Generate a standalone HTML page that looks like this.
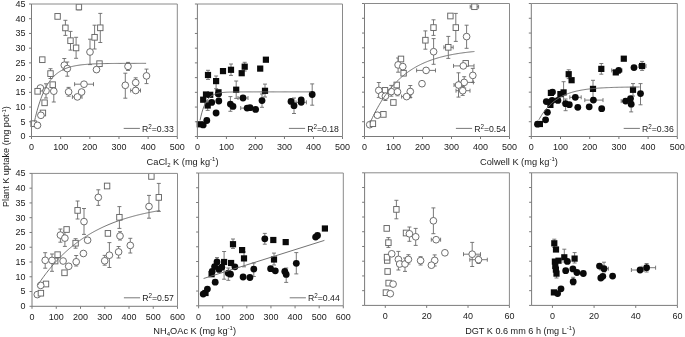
<!DOCTYPE html>
<html><head><meta charset="utf-8"><style>
html,body{margin:0;padding:0;background:#fff;}
svg{display:block;font-family:"Liberation Sans",sans-serif;filter:blur(0.3px);}
text{fill:#1a1a1a;}
</style></head><body>
<svg width="685" height="337" viewBox="0 0 685 337" shape-rendering="auto">
<defs><clipPath id="cA"><rect x="27.5" y="4.0" width="153.8" height="136.5"/></clipPath><clipPath id="cB"><rect x="193.4" y="4.0" width="153.1" height="136.5"/></clipPath><clipPath id="cC"><rect x="360.5" y="3.5" width="153.0" height="137.0"/></clipPath><clipPath id="cD"><rect x="527.3" y="3.5" width="154.0" height="137.0"/></clipPath><clipPath id="cE"><rect x="28.0" y="173.4" width="153.5" height="136.9"/></clipPath><clipPath id="cF"><rect x="194.6" y="173.0" width="152.70000000000002" height="136.8"/></clipPath><clipPath id="cG"><rect x="360.6" y="172.8" width="152.79999999999995" height="136.59999999999997"/></clipPath><clipPath id="cH"><rect x="527.6" y="172.8" width="153.79999999999995" height="136.59999999999997"/></clipPath></defs>
<line x1="29.00" y1="136.50" x2="31.50" y2="136.50" stroke="#7a7a7a" stroke-width="1"/>
<text transform="translate(25.60,139.40) scale(1,1.08)" font-size="9" text-anchor="end" >0</text>
<line x1="29.00" y1="121.78" x2="31.50" y2="121.78" stroke="#7a7a7a" stroke-width="1"/>
<text transform="translate(25.60,124.68) scale(1,1.08)" font-size="9" text-anchor="end" >5</text>
<line x1="29.00" y1="107.06" x2="31.50" y2="107.06" stroke="#7a7a7a" stroke-width="1"/>
<text transform="translate(25.60,109.96) scale(1,1.08)" font-size="9" text-anchor="end" >10</text>
<line x1="29.00" y1="92.33" x2="31.50" y2="92.33" stroke="#7a7a7a" stroke-width="1"/>
<text transform="translate(25.60,95.23) scale(1,1.08)" font-size="9" text-anchor="end" >15</text>
<line x1="29.00" y1="77.61" x2="31.50" y2="77.61" stroke="#7a7a7a" stroke-width="1"/>
<text transform="translate(25.60,80.51) scale(1,1.08)" font-size="9" text-anchor="end" >20</text>
<line x1="29.00" y1="62.89" x2="31.50" y2="62.89" stroke="#7a7a7a" stroke-width="1"/>
<text transform="translate(25.60,65.79) scale(1,1.08)" font-size="9" text-anchor="end" >25</text>
<line x1="29.00" y1="48.17" x2="31.50" y2="48.17" stroke="#7a7a7a" stroke-width="1"/>
<text transform="translate(25.60,51.07) scale(1,1.08)" font-size="9" text-anchor="end" >30</text>
<line x1="29.00" y1="33.44" x2="31.50" y2="33.44" stroke="#7a7a7a" stroke-width="1"/>
<text transform="translate(25.60,36.34) scale(1,1.08)" font-size="9" text-anchor="end" >35</text>
<line x1="29.00" y1="18.72" x2="31.50" y2="18.72" stroke="#7a7a7a" stroke-width="1"/>
<text transform="translate(25.60,21.62) scale(1,1.08)" font-size="9" text-anchor="end" >40</text>
<line x1="29.00" y1="4.00" x2="31.50" y2="4.00" stroke="#7a7a7a" stroke-width="1"/>
<text transform="translate(25.60,6.90) scale(1,1.08)" font-size="9" text-anchor="end" >45</text>
<line x1="31.50" y1="136.50" x2="31.50" y2="139.00" stroke="#7a7a7a" stroke-width="1"/>
<text transform="translate(31.50,150.30) scale(1,1.08)" font-size="9" text-anchor="middle" >0</text>
<line x1="60.66" y1="136.50" x2="60.66" y2="139.00" stroke="#7a7a7a" stroke-width="1"/>
<text transform="translate(60.66,150.30) scale(1,1.08)" font-size="9" text-anchor="middle" >100</text>
<line x1="89.82" y1="136.50" x2="89.82" y2="139.00" stroke="#7a7a7a" stroke-width="1"/>
<text transform="translate(89.82,150.30) scale(1,1.08)" font-size="9" text-anchor="middle" >200</text>
<line x1="118.98" y1="136.50" x2="118.98" y2="139.00" stroke="#7a7a7a" stroke-width="1"/>
<text transform="translate(118.98,150.30) scale(1,1.08)" font-size="9" text-anchor="middle" >300</text>
<line x1="148.14" y1="136.50" x2="148.14" y2="139.00" stroke="#7a7a7a" stroke-width="1"/>
<text transform="translate(148.14,150.30) scale(1,1.08)" font-size="9" text-anchor="middle" >400</text>
<line x1="177.30" y1="136.50" x2="177.30" y2="139.00" stroke="#7a7a7a" stroke-width="1"/>
<text transform="translate(177.30,150.30) scale(1,1.08)" font-size="9" text-anchor="middle" >500</text>
<line x1="194.90" y1="136.50" x2="197.40" y2="136.50" stroke="#7a7a7a" stroke-width="1"/>
<line x1="194.90" y1="121.78" x2="197.40" y2="121.78" stroke="#7a7a7a" stroke-width="1"/>
<line x1="194.90" y1="107.06" x2="197.40" y2="107.06" stroke="#7a7a7a" stroke-width="1"/>
<line x1="194.90" y1="92.33" x2="197.40" y2="92.33" stroke="#7a7a7a" stroke-width="1"/>
<line x1="194.90" y1="77.61" x2="197.40" y2="77.61" stroke="#7a7a7a" stroke-width="1"/>
<line x1="194.90" y1="62.89" x2="197.40" y2="62.89" stroke="#7a7a7a" stroke-width="1"/>
<line x1="194.90" y1="48.17" x2="197.40" y2="48.17" stroke="#7a7a7a" stroke-width="1"/>
<line x1="194.90" y1="33.44" x2="197.40" y2="33.44" stroke="#7a7a7a" stroke-width="1"/>
<line x1="194.90" y1="18.72" x2="197.40" y2="18.72" stroke="#7a7a7a" stroke-width="1"/>
<line x1="194.90" y1="4.00" x2="197.40" y2="4.00" stroke="#7a7a7a" stroke-width="1"/>
<line x1="197.40" y1="136.50" x2="197.40" y2="139.00" stroke="#7a7a7a" stroke-width="1"/>
<text transform="translate(197.40,150.30) scale(1,1.08)" font-size="9" text-anchor="middle" >0</text>
<line x1="226.42" y1="136.50" x2="226.42" y2="139.00" stroke="#7a7a7a" stroke-width="1"/>
<text transform="translate(226.42,150.30) scale(1,1.08)" font-size="9" text-anchor="middle" >100</text>
<line x1="255.44" y1="136.50" x2="255.44" y2="139.00" stroke="#7a7a7a" stroke-width="1"/>
<text transform="translate(255.44,150.30) scale(1,1.08)" font-size="9" text-anchor="middle" >200</text>
<line x1="284.46" y1="136.50" x2="284.46" y2="139.00" stroke="#7a7a7a" stroke-width="1"/>
<text transform="translate(284.46,150.30) scale(1,1.08)" font-size="9" text-anchor="middle" >300</text>
<line x1="313.48" y1="136.50" x2="313.48" y2="139.00" stroke="#7a7a7a" stroke-width="1"/>
<text transform="translate(313.48,150.30) scale(1,1.08)" font-size="9" text-anchor="middle" >400</text>
<line x1="342.50" y1="136.50" x2="342.50" y2="139.00" stroke="#7a7a7a" stroke-width="1"/>
<text transform="translate(342.50,150.30) scale(1,1.08)" font-size="9" text-anchor="middle" >500</text>
<line x1="362.00" y1="136.50" x2="364.50" y2="136.50" stroke="#7a7a7a" stroke-width="1"/>
<line x1="362.00" y1="121.72" x2="364.50" y2="121.72" stroke="#7a7a7a" stroke-width="1"/>
<line x1="362.00" y1="106.94" x2="364.50" y2="106.94" stroke="#7a7a7a" stroke-width="1"/>
<line x1="362.00" y1="92.17" x2="364.50" y2="92.17" stroke="#7a7a7a" stroke-width="1"/>
<line x1="362.00" y1="77.39" x2="364.50" y2="77.39" stroke="#7a7a7a" stroke-width="1"/>
<line x1="362.00" y1="62.61" x2="364.50" y2="62.61" stroke="#7a7a7a" stroke-width="1"/>
<line x1="362.00" y1="47.83" x2="364.50" y2="47.83" stroke="#7a7a7a" stroke-width="1"/>
<line x1="362.00" y1="33.06" x2="364.50" y2="33.06" stroke="#7a7a7a" stroke-width="1"/>
<line x1="362.00" y1="18.28" x2="364.50" y2="18.28" stroke="#7a7a7a" stroke-width="1"/>
<line x1="362.00" y1="3.50" x2="364.50" y2="3.50" stroke="#7a7a7a" stroke-width="1"/>
<line x1="364.50" y1="136.50" x2="364.50" y2="139.00" stroke="#7a7a7a" stroke-width="1"/>
<text transform="translate(364.50,150.30) scale(1,1.08)" font-size="9" text-anchor="middle" >0</text>
<line x1="393.50" y1="136.50" x2="393.50" y2="139.00" stroke="#7a7a7a" stroke-width="1"/>
<text transform="translate(393.50,150.30) scale(1,1.08)" font-size="9" text-anchor="middle" >100</text>
<line x1="422.50" y1="136.50" x2="422.50" y2="139.00" stroke="#7a7a7a" stroke-width="1"/>
<text transform="translate(422.50,150.30) scale(1,1.08)" font-size="9" text-anchor="middle" >200</text>
<line x1="451.50" y1="136.50" x2="451.50" y2="139.00" stroke="#7a7a7a" stroke-width="1"/>
<text transform="translate(451.50,150.30) scale(1,1.08)" font-size="9" text-anchor="middle" >300</text>
<line x1="480.50" y1="136.50" x2="480.50" y2="139.00" stroke="#7a7a7a" stroke-width="1"/>
<text transform="translate(480.50,150.30) scale(1,1.08)" font-size="9" text-anchor="middle" >400</text>
<line x1="509.50" y1="136.50" x2="509.50" y2="139.00" stroke="#7a7a7a" stroke-width="1"/>
<text transform="translate(509.50,150.30) scale(1,1.08)" font-size="9" text-anchor="middle" >500</text>
<line x1="528.80" y1="136.50" x2="531.30" y2="136.50" stroke="#7a7a7a" stroke-width="1"/>
<line x1="528.80" y1="121.72" x2="531.30" y2="121.72" stroke="#7a7a7a" stroke-width="1"/>
<line x1="528.80" y1="106.94" x2="531.30" y2="106.94" stroke="#7a7a7a" stroke-width="1"/>
<line x1="528.80" y1="92.17" x2="531.30" y2="92.17" stroke="#7a7a7a" stroke-width="1"/>
<line x1="528.80" y1="77.39" x2="531.30" y2="77.39" stroke="#7a7a7a" stroke-width="1"/>
<line x1="528.80" y1="62.61" x2="531.30" y2="62.61" stroke="#7a7a7a" stroke-width="1"/>
<line x1="528.80" y1="47.83" x2="531.30" y2="47.83" stroke="#7a7a7a" stroke-width="1"/>
<line x1="528.80" y1="33.06" x2="531.30" y2="33.06" stroke="#7a7a7a" stroke-width="1"/>
<line x1="528.80" y1="18.28" x2="531.30" y2="18.28" stroke="#7a7a7a" stroke-width="1"/>
<line x1="528.80" y1="3.50" x2="531.30" y2="3.50" stroke="#7a7a7a" stroke-width="1"/>
<line x1="531.30" y1="136.50" x2="531.30" y2="139.00" stroke="#7a7a7a" stroke-width="1"/>
<text transform="translate(531.30,150.30) scale(1,1.08)" font-size="9" text-anchor="middle" >0</text>
<line x1="560.50" y1="136.50" x2="560.50" y2="139.00" stroke="#7a7a7a" stroke-width="1"/>
<text transform="translate(560.50,150.30) scale(1,1.08)" font-size="9" text-anchor="middle" >100</text>
<line x1="589.70" y1="136.50" x2="589.70" y2="139.00" stroke="#7a7a7a" stroke-width="1"/>
<text transform="translate(589.70,150.30) scale(1,1.08)" font-size="9" text-anchor="middle" >200</text>
<line x1="618.90" y1="136.50" x2="618.90" y2="139.00" stroke="#7a7a7a" stroke-width="1"/>
<text transform="translate(618.90,150.30) scale(1,1.08)" font-size="9" text-anchor="middle" >300</text>
<line x1="648.10" y1="136.50" x2="648.10" y2="139.00" stroke="#7a7a7a" stroke-width="1"/>
<text transform="translate(648.10,150.30) scale(1,1.08)" font-size="9" text-anchor="middle" >400</text>
<line x1="677.30" y1="136.50" x2="677.30" y2="139.00" stroke="#7a7a7a" stroke-width="1"/>
<text transform="translate(677.30,150.30) scale(1,1.08)" font-size="9" text-anchor="middle" >500</text>
<line x1="29.50" y1="306.30" x2="32.00" y2="306.30" stroke="#7a7a7a" stroke-width="1"/>
<text transform="translate(25.60,309.20) scale(1,1.08)" font-size="9" text-anchor="end" >0</text>
<line x1="29.50" y1="291.53" x2="32.00" y2="291.53" stroke="#7a7a7a" stroke-width="1"/>
<text transform="translate(25.60,294.43) scale(1,1.08)" font-size="9" text-anchor="end" >5</text>
<line x1="29.50" y1="276.77" x2="32.00" y2="276.77" stroke="#7a7a7a" stroke-width="1"/>
<text transform="translate(25.60,279.67) scale(1,1.08)" font-size="9" text-anchor="end" >10</text>
<line x1="29.50" y1="262.00" x2="32.00" y2="262.00" stroke="#7a7a7a" stroke-width="1"/>
<text transform="translate(25.60,264.90) scale(1,1.08)" font-size="9" text-anchor="end" >15</text>
<line x1="29.50" y1="247.23" x2="32.00" y2="247.23" stroke="#7a7a7a" stroke-width="1"/>
<text transform="translate(25.60,250.13) scale(1,1.08)" font-size="9" text-anchor="end" >20</text>
<line x1="29.50" y1="232.47" x2="32.00" y2="232.47" stroke="#7a7a7a" stroke-width="1"/>
<text transform="translate(25.60,235.37) scale(1,1.08)" font-size="9" text-anchor="end" >25</text>
<line x1="29.50" y1="217.70" x2="32.00" y2="217.70" stroke="#7a7a7a" stroke-width="1"/>
<text transform="translate(25.60,220.60) scale(1,1.08)" font-size="9" text-anchor="end" >30</text>
<line x1="29.50" y1="202.93" x2="32.00" y2="202.93" stroke="#7a7a7a" stroke-width="1"/>
<text transform="translate(25.60,205.83) scale(1,1.08)" font-size="9" text-anchor="end" >35</text>
<line x1="29.50" y1="188.17" x2="32.00" y2="188.17" stroke="#7a7a7a" stroke-width="1"/>
<text transform="translate(25.60,191.07) scale(1,1.08)" font-size="9" text-anchor="end" >40</text>
<line x1="29.50" y1="173.40" x2="32.00" y2="173.40" stroke="#7a7a7a" stroke-width="1"/>
<text transform="translate(25.60,176.30) scale(1,1.08)" font-size="9" text-anchor="end" >45</text>
<line x1="32.00" y1="306.30" x2="32.00" y2="308.80" stroke="#7a7a7a" stroke-width="1"/>
<text transform="translate(32.00,320.10) scale(1,1.08)" font-size="9" text-anchor="middle" >0</text>
<line x1="56.25" y1="306.30" x2="56.25" y2="308.80" stroke="#7a7a7a" stroke-width="1"/>
<text transform="translate(56.25,320.10) scale(1,1.08)" font-size="9" text-anchor="middle" >100</text>
<line x1="80.50" y1="306.30" x2="80.50" y2="308.80" stroke="#7a7a7a" stroke-width="1"/>
<text transform="translate(80.50,320.10) scale(1,1.08)" font-size="9" text-anchor="middle" >200</text>
<line x1="104.75" y1="306.30" x2="104.75" y2="308.80" stroke="#7a7a7a" stroke-width="1"/>
<text transform="translate(104.75,320.10) scale(1,1.08)" font-size="9" text-anchor="middle" >300</text>
<line x1="129.00" y1="306.30" x2="129.00" y2="308.80" stroke="#7a7a7a" stroke-width="1"/>
<text transform="translate(129.00,320.10) scale(1,1.08)" font-size="9" text-anchor="middle" >400</text>
<line x1="153.25" y1="306.30" x2="153.25" y2="308.80" stroke="#7a7a7a" stroke-width="1"/>
<text transform="translate(153.25,320.10) scale(1,1.08)" font-size="9" text-anchor="middle" >500</text>
<line x1="177.50" y1="306.30" x2="177.50" y2="308.80" stroke="#7a7a7a" stroke-width="1"/>
<text transform="translate(177.50,320.10) scale(1,1.08)" font-size="9" text-anchor="middle" >600</text>
<line x1="196.10" y1="305.80" x2="198.60" y2="305.80" stroke="#7a7a7a" stroke-width="1"/>
<line x1="196.10" y1="291.04" x2="198.60" y2="291.04" stroke="#7a7a7a" stroke-width="1"/>
<line x1="196.10" y1="276.29" x2="198.60" y2="276.29" stroke="#7a7a7a" stroke-width="1"/>
<line x1="196.10" y1="261.53" x2="198.60" y2="261.53" stroke="#7a7a7a" stroke-width="1"/>
<line x1="196.10" y1="246.78" x2="198.60" y2="246.78" stroke="#7a7a7a" stroke-width="1"/>
<line x1="196.10" y1="232.02" x2="198.60" y2="232.02" stroke="#7a7a7a" stroke-width="1"/>
<line x1="196.10" y1="217.27" x2="198.60" y2="217.27" stroke="#7a7a7a" stroke-width="1"/>
<line x1="196.10" y1="202.51" x2="198.60" y2="202.51" stroke="#7a7a7a" stroke-width="1"/>
<line x1="196.10" y1="187.76" x2="198.60" y2="187.76" stroke="#7a7a7a" stroke-width="1"/>
<line x1="196.10" y1="173.00" x2="198.60" y2="173.00" stroke="#7a7a7a" stroke-width="1"/>
<line x1="198.60" y1="305.80" x2="198.60" y2="308.30" stroke="#7a7a7a" stroke-width="1"/>
<text transform="translate(198.60,319.60) scale(1,1.08)" font-size="9" text-anchor="middle" >0</text>
<line x1="222.72" y1="305.80" x2="222.72" y2="308.30" stroke="#7a7a7a" stroke-width="1"/>
<text transform="translate(222.72,319.60) scale(1,1.08)" font-size="9" text-anchor="middle" >100</text>
<line x1="246.83" y1="305.80" x2="246.83" y2="308.30" stroke="#7a7a7a" stroke-width="1"/>
<text transform="translate(246.83,319.60) scale(1,1.08)" font-size="9" text-anchor="middle" >200</text>
<line x1="270.95" y1="305.80" x2="270.95" y2="308.30" stroke="#7a7a7a" stroke-width="1"/>
<text transform="translate(270.95,319.60) scale(1,1.08)" font-size="9" text-anchor="middle" >300</text>
<line x1="295.07" y1="305.80" x2="295.07" y2="308.30" stroke="#7a7a7a" stroke-width="1"/>
<text transform="translate(295.07,319.60) scale(1,1.08)" font-size="9" text-anchor="middle" >400</text>
<line x1="319.18" y1="305.80" x2="319.18" y2="308.30" stroke="#7a7a7a" stroke-width="1"/>
<text transform="translate(319.18,319.60) scale(1,1.08)" font-size="9" text-anchor="middle" >500</text>
<line x1="343.30" y1="305.80" x2="343.30" y2="308.30" stroke="#7a7a7a" stroke-width="1"/>
<text transform="translate(343.30,319.60) scale(1,1.08)" font-size="9" text-anchor="middle" >600</text>
<line x1="362.10" y1="305.40" x2="364.60" y2="305.40" stroke="#7a7a7a" stroke-width="1"/>
<line x1="362.10" y1="290.67" x2="364.60" y2="290.67" stroke="#7a7a7a" stroke-width="1"/>
<line x1="362.10" y1="275.93" x2="364.60" y2="275.93" stroke="#7a7a7a" stroke-width="1"/>
<line x1="362.10" y1="261.20" x2="364.60" y2="261.20" stroke="#7a7a7a" stroke-width="1"/>
<line x1="362.10" y1="246.47" x2="364.60" y2="246.47" stroke="#7a7a7a" stroke-width="1"/>
<line x1="362.10" y1="231.73" x2="364.60" y2="231.73" stroke="#7a7a7a" stroke-width="1"/>
<line x1="362.10" y1="217.00" x2="364.60" y2="217.00" stroke="#7a7a7a" stroke-width="1"/>
<line x1="362.10" y1="202.27" x2="364.60" y2="202.27" stroke="#7a7a7a" stroke-width="1"/>
<line x1="362.10" y1="187.53" x2="364.60" y2="187.53" stroke="#7a7a7a" stroke-width="1"/>
<line x1="362.10" y1="172.80" x2="364.60" y2="172.80" stroke="#7a7a7a" stroke-width="1"/>
<line x1="385.29" y1="305.40" x2="385.29" y2="307.90" stroke="#7a7a7a" stroke-width="1"/>
<text transform="translate(385.29,319.20) scale(1,1.08)" font-size="9" text-anchor="middle" >0</text>
<line x1="426.66" y1="305.40" x2="426.66" y2="307.90" stroke="#7a7a7a" stroke-width="1"/>
<text transform="translate(426.66,319.20) scale(1,1.08)" font-size="9" text-anchor="middle" >20</text>
<line x1="468.03" y1="305.40" x2="468.03" y2="307.90" stroke="#7a7a7a" stroke-width="1"/>
<text transform="translate(468.03,319.20) scale(1,1.08)" font-size="9" text-anchor="middle" >40</text>
<line x1="509.40" y1="305.40" x2="509.40" y2="307.90" stroke="#7a7a7a" stroke-width="1"/>
<text transform="translate(509.40,319.20) scale(1,1.08)" font-size="9" text-anchor="middle" >60</text>
<line x1="529.10" y1="305.40" x2="531.60" y2="305.40" stroke="#7a7a7a" stroke-width="1"/>
<line x1="529.10" y1="290.67" x2="531.60" y2="290.67" stroke="#7a7a7a" stroke-width="1"/>
<line x1="529.10" y1="275.93" x2="531.60" y2="275.93" stroke="#7a7a7a" stroke-width="1"/>
<line x1="529.10" y1="261.20" x2="531.60" y2="261.20" stroke="#7a7a7a" stroke-width="1"/>
<line x1="529.10" y1="246.47" x2="531.60" y2="246.47" stroke="#7a7a7a" stroke-width="1"/>
<line x1="529.10" y1="231.73" x2="531.60" y2="231.73" stroke="#7a7a7a" stroke-width="1"/>
<line x1="529.10" y1="217.00" x2="531.60" y2="217.00" stroke="#7a7a7a" stroke-width="1"/>
<line x1="529.10" y1="202.27" x2="531.60" y2="202.27" stroke="#7a7a7a" stroke-width="1"/>
<line x1="529.10" y1="187.53" x2="531.60" y2="187.53" stroke="#7a7a7a" stroke-width="1"/>
<line x1="529.10" y1="172.80" x2="531.60" y2="172.80" stroke="#7a7a7a" stroke-width="1"/>
<line x1="552.43" y1="305.40" x2="552.43" y2="307.90" stroke="#7a7a7a" stroke-width="1"/>
<text transform="translate(552.43,319.20) scale(1,1.08)" font-size="9" text-anchor="middle" >0</text>
<line x1="594.09" y1="305.40" x2="594.09" y2="307.90" stroke="#7a7a7a" stroke-width="1"/>
<text transform="translate(594.09,319.20) scale(1,1.08)" font-size="9" text-anchor="middle" >20</text>
<line x1="635.74" y1="305.40" x2="635.74" y2="307.90" stroke="#7a7a7a" stroke-width="1"/>
<text transform="translate(635.74,319.20) scale(1,1.08)" font-size="9" text-anchor="middle" >40</text>
<line x1="677.40" y1="305.40" x2="677.40" y2="307.90" stroke="#7a7a7a" stroke-width="1"/>
<text transform="translate(677.40,319.20) scale(1,1.08)" font-size="9" text-anchor="middle" >60</text>
<g clip-path="url(#cA)">
<path d="M78.90 9.70V9.70M76.90 9.70h4.0M76.90 9.70h4.0" stroke="#6a6a6a" stroke-width="0.9" fill="none"/>
<path d="M65.40 20.30V35.40M63.40 20.30h4.0M63.40 35.40h4.0" stroke="#6a6a6a" stroke-width="0.9" fill="none"/>
<path d="M70.50 31.40V50.10M68.50 31.40h4.0M68.50 50.10h4.0" stroke="#6a6a6a" stroke-width="0.9" fill="none"/>
<path d="M76.10 37.30V58.30M74.10 37.30h4.0M74.10 58.30h4.0" stroke="#6a6a6a" stroke-width="0.9" fill="none"/>
<path d="M94.60 25.20V49.00M92.60 25.20h4.0M92.60 49.00h4.0" stroke="#6a6a6a" stroke-width="0.9" fill="none"/>
<path d="M100.30 13.40V42.50M98.30 13.40h4.0M98.30 42.50h4.0" stroke="#6a6a6a" stroke-width="0.9" fill="none"/>
<path d="M50.50 68.70V78.50M48.50 68.70h4.0M48.50 78.50h4.0" stroke="#6a6a6a" stroke-width="0.9" fill="none"/>
<path d="M90.00 39.20V64.60M88.00 39.20h4.0M88.00 64.60h4.0" stroke="#6a6a6a" stroke-width="0.9" fill="none"/>
<path d="M64.30 58.50V70.00M62.30 58.50h4.0M62.30 70.00h4.0" stroke="#6a6a6a" stroke-width="0.9" fill="none"/>
<path d="M67.30 62.00V76.20M65.30 62.00h4.0M65.30 76.20h4.0" stroke="#6a6a6a" stroke-width="0.9" fill="none"/>
<path d="M74.60 84.20H93.50M74.60 82.20v4.0M93.50 82.20v4.0" stroke="#6a6a6a" stroke-width="0.9" fill="none"/>
<path d="M128.00 62.40V70.40M126.00 62.40h4.0M126.00 70.40h4.0" stroke="#6a6a6a" stroke-width="0.9" fill="none"/>
<path d="M125.30 73.20V98.20M123.30 73.20h4.0M123.30 98.20h4.0" stroke="#6a6a6a" stroke-width="0.9" fill="none"/>
<path d="M135.70 77.80V87.40M133.70 77.80h4.0M133.70 87.40h4.0" stroke="#6a6a6a" stroke-width="0.9" fill="none"/>
<path d="M130.70 90.50H140.50M130.70 88.50v4.0M140.50 88.50v4.0" stroke="#6a6a6a" stroke-width="0.9" fill="none"/>
<path d="M146.50 69.10V83.60M144.50 69.10h4.0M144.50 83.60h4.0" stroke="#6a6a6a" stroke-width="0.9" fill="none"/>
<path d="M46.00 83.80V98.00M44.00 83.80h4.0M44.00 98.00h4.0" stroke="#6a6a6a" stroke-width="0.9" fill="none"/>
<path d="M53.80 86.50V102.00M51.80 86.50h4.0M51.80 102.00h4.0" stroke="#6a6a6a" stroke-width="0.9" fill="none"/>
<path d="M68.60 87.40V96.20M66.60 87.40h4.0M66.60 96.20h4.0" stroke="#6a6a6a" stroke-width="0.9" fill="none"/>
<path d="M72.40 96.90H82.00M72.40 94.90v4.0M82.00 94.90v4.0" stroke="#6a6a6a" stroke-width="0.9" fill="none"/>
<rect x="76.20" y="4.15" width="5.4" height="5.7" fill="#fff" stroke="#666" stroke-width="0.95"/>
<rect x="54.90" y="13.55" width="5.4" height="5.7" fill="#fff" stroke="#666" stroke-width="0.95"/>
<rect x="62.70" y="25.05" width="5.4" height="5.7" fill="#fff" stroke="#666" stroke-width="0.95"/>
<rect x="67.80" y="37.85" width="5.4" height="5.7" fill="#fff" stroke="#666" stroke-width="0.95"/>
<rect x="73.40" y="45.05" width="5.4" height="5.7" fill="#fff" stroke="#666" stroke-width="0.95"/>
<rect x="91.90" y="34.45" width="5.4" height="5.7" fill="#fff" stroke="#666" stroke-width="0.95"/>
<rect x="97.60" y="24.95" width="5.4" height="5.7" fill="#fff" stroke="#666" stroke-width="0.95"/>
<rect x="96.80" y="60.85" width="5.4" height="5.7" fill="#fff" stroke="#666" stroke-width="0.95"/>
<rect x="39.60" y="56.85" width="5.4" height="5.7" fill="#fff" stroke="#666" stroke-width="0.95"/>
<rect x="47.80" y="70.75" width="5.4" height="5.7" fill="#fff" stroke="#666" stroke-width="0.95"/>
<rect x="50.00" y="81.85" width="5.4" height="5.7" fill="#fff" stroke="#666" stroke-width="0.95"/>
<rect x="41.90" y="99.95" width="5.4" height="5.7" fill="#fff" stroke="#666" stroke-width="0.95"/>
<rect x="40.20" y="110.15" width="5.4" height="5.7" fill="#fff" stroke="#666" stroke-width="0.95"/>
<rect x="30.90" y="120.85" width="5.4" height="5.7" fill="#fff" stroke="#666" stroke-width="0.95"/>
<circle cx="90.00" cy="52.00" r="3.35" fill="#fff" stroke="#666" stroke-width="0.95"/>
<circle cx="96.50" cy="69.60" r="3.35" fill="#fff" stroke="#666" stroke-width="0.95"/>
<circle cx="64.30" cy="65.20" r="3.35" fill="#fff" stroke="#666" stroke-width="0.95"/>
<circle cx="67.30" cy="68.60" r="3.35" fill="#fff" stroke="#666" stroke-width="0.95"/>
<circle cx="84.00" cy="84.20" r="3.35" fill="#fff" stroke="#666" stroke-width="0.95"/>
<circle cx="128.00" cy="66.40" r="3.35" fill="#fff" stroke="#666" stroke-width="0.95"/>
<circle cx="125.30" cy="85.30" r="3.35" fill="#fff" stroke="#666" stroke-width="0.95"/>
<circle cx="135.70" cy="82.60" r="3.35" fill="#fff" stroke="#666" stroke-width="0.95"/>
<circle cx="135.70" cy="90.50" r="3.35" fill="#fff" stroke="#666" stroke-width="0.95"/>
<circle cx="146.50" cy="75.90" r="3.35" fill="#fff" stroke="#666" stroke-width="0.95"/>
<circle cx="40.40" cy="88.00" r="3.35" fill="#fff" stroke="#666" stroke-width="0.95"/>
<circle cx="46.00" cy="90.90" r="3.35" fill="#fff" stroke="#666" stroke-width="0.95"/>
<circle cx="53.80" cy="91.20" r="3.35" fill="#fff" stroke="#666" stroke-width="0.95"/>
<circle cx="68.60" cy="91.80" r="3.35" fill="#fff" stroke="#666" stroke-width="0.95"/>
<circle cx="77.40" cy="96.90" r="3.35" fill="#fff" stroke="#666" stroke-width="0.95"/>
<circle cx="81.60" cy="92.00" r="3.35" fill="#fff" stroke="#666" stroke-width="0.95"/>
<circle cx="40.90" cy="115.30" r="3.35" fill="#fff" stroke="#666" stroke-width="0.95"/>
<circle cx="37.50" cy="125.30" r="3.35" fill="#fff" stroke="#666" stroke-width="0.95"/>
<rect x="34.90" y="88.45" width="5.4" height="5.7" fill="#fff" stroke="#666" stroke-width="0.95"/>
<polyline points="34.42,121.70 35.35,117.64 36.28,113.86 37.21,110.34 38.14,107.07 39.07,104.03 40.00,101.19 40.93,98.56 41.86,96.11 42.79,93.83 43.72,91.70 44.65,89.73 45.58,87.89 46.51,86.18 47.45,84.59 48.38,83.11 49.31,81.74 50.24,80.46 51.17,79.26 52.10,78.15 53.03,77.12 53.96,76.16 54.89,75.27 55.82,74.44 56.75,73.67 57.68,72.95 58.61,72.28 59.54,71.66 60.48,71.08 61.41,70.54 62.34,70.04 63.27,69.57 64.20,69.13 65.13,68.73 66.06,68.35 66.99,68.01 67.92,67.68 68.85,67.38 69.78,67.10 70.71,66.83 71.64,66.59 72.57,66.36 73.50,66.15 74.44,65.96 75.37,65.77 76.30,65.60 77.23,65.44 78.16,65.30 79.09,65.16 80.02,65.03 80.95,64.91 81.88,64.80 82.81,64.70 83.74,64.61 84.67,64.52 85.60,64.44 86.53,64.36 87.47,64.29 88.40,64.22 89.33,64.16 90.26,64.10 91.19,64.05 92.12,64.00 93.05,63.95 93.98,63.91 94.91,63.87 95.84,63.83 96.77,63.80 97.70,63.76 98.63,63.73 99.56,63.70 100.49,63.68 101.43,63.65 102.36,63.63 103.29,63.61 104.22,63.59 105.15,63.57 106.08,63.56 107.01,63.54 107.94,63.53 108.87,63.51 109.80,63.50 110.73,63.49 111.66,63.48 112.59,63.47 113.52,63.46 114.46,63.45 115.39,63.44 116.32,63.43 117.25,63.43 118.18,63.42 119.11,63.41 120.04,63.41 120.97,63.40 121.90,63.40 122.83,63.39 123.76,63.39 124.69,63.38 125.62,63.38 126.55,63.38 127.48,63.37 128.42,63.37 129.35,63.37 130.28,63.37 131.21,63.36 132.14,63.36 133.07,63.36 134.00,63.36 134.93,63.35 135.86,63.35 136.79,63.35 137.72,63.35 138.65,63.35 139.58,63.35 140.51,63.35 141.45,63.35 142.38,63.34 143.31,63.34 144.24,63.34 145.17,63.34 146.10,63.34" fill="none" stroke="#6a6a6a" stroke-width="0.95"/>
</g>
<g clip-path="url(#cB)">
<path d="M208.00 70.30V79.40M206.00 70.30h4.0M206.00 79.40h4.0" stroke="#6a6a6a" stroke-width="0.9" fill="none"/>
<path d="M216.10 76.00V88.70M214.10 76.00h4.0M214.10 88.70h4.0" stroke="#6a6a6a" stroke-width="0.9" fill="none"/>
<path d="M231.00 64.00V75.40M229.00 64.00h4.0M229.00 75.40h4.0" stroke="#6a6a6a" stroke-width="0.9" fill="none"/>
<path d="M244.70 62.30V71.00M242.70 62.30h4.0M242.70 71.00h4.0" stroke="#6a6a6a" stroke-width="0.9" fill="none"/>
<path d="M236.20 81.00V98.40M234.20 81.00h4.0M234.20 98.40h4.0" stroke="#6a6a6a" stroke-width="0.9" fill="none"/>
<path d="M265.00 84.10V97.00M263.00 84.10h4.0M263.00 97.00h4.0" stroke="#6a6a6a" stroke-width="0.9" fill="none"/>
<path d="M207.70 101.00V110.40M205.70 101.00h4.0M205.70 110.40h4.0" stroke="#6a6a6a" stroke-width="0.9" fill="none"/>
<path d="M230.40 96.60V111.30M228.40 96.60h4.0M228.40 111.30h4.0" stroke="#6a6a6a" stroke-width="0.9" fill="none"/>
<path d="M238.00 98.00H248.00M238.00 96.00v4.0M248.00 96.00v4.0" stroke="#6a6a6a" stroke-width="0.9" fill="none"/>
<path d="M262.00 94.00V107.30M260.00 94.00h4.0M260.00 107.30h4.0" stroke="#6a6a6a" stroke-width="0.9" fill="none"/>
<path d="M240.70 108.10H252.00M240.70 106.10v4.0M252.00 106.10v4.0" stroke="#6a6a6a" stroke-width="0.9" fill="none"/>
<path d="M294.00 98.00V113.50M292.00 98.00h4.0M292.00 113.50h4.0" stroke="#6a6a6a" stroke-width="0.9" fill="none"/>
<path d="M296.00 102.30H306.40M296.00 100.30v4.0M306.40 100.30v4.0" stroke="#6a6a6a" stroke-width="0.9" fill="none"/>
<path d="M312.20 83.90V105.20M310.20 83.90h4.0M310.20 105.20h4.0" stroke="#6a6a6a" stroke-width="0.9" fill="none"/>
<rect x="204.90" y="71.90" width="6.2" height="6.2" fill="#0a0a0a"/>
<rect x="213.00" y="78.00" width="6.2" height="6.2" fill="#0a0a0a"/>
<rect x="219.90" y="68.00" width="6.2" height="6.2" fill="#0a0a0a"/>
<rect x="227.90" y="66.70" width="6.2" height="6.2" fill="#0a0a0a"/>
<rect x="238.60" y="70.10" width="6.2" height="6.2" fill="#0a0a0a"/>
<rect x="241.60" y="63.60" width="6.2" height="6.2" fill="#0a0a0a"/>
<rect x="257.10" y="65.50" width="6.2" height="6.2" fill="#0a0a0a"/>
<rect x="262.80" y="56.60" width="6.2" height="6.2" fill="#0a0a0a"/>
<rect x="233.10" y="86.60" width="6.2" height="6.2" fill="#0a0a0a"/>
<rect x="261.90" y="87.70" width="6.2" height="6.2" fill="#0a0a0a"/>
<rect x="202.90" y="91.40" width="6.2" height="6.2" fill="#0a0a0a"/>
<rect x="207.10" y="91.70" width="6.2" height="6.2" fill="#0a0a0a"/>
<rect x="200.10" y="96.60" width="6.2" height="6.2" fill="#0a0a0a"/>
<rect x="204.60" y="102.40" width="6.2" height="6.2" fill="#0a0a0a"/>
<rect x="215.40" y="89.20" width="6.2" height="6.2" fill="#0a0a0a"/>
<rect x="196.70" y="121.20" width="6.2" height="6.2" fill="#0a0a0a"/>
<circle cx="218.40" cy="93.90" r="3.4" fill="#0a0a0a"/>
<circle cx="211.70" cy="102.40" r="3.4" fill="#0a0a0a"/>
<circle cx="218.80" cy="101.00" r="3.4" fill="#0a0a0a"/>
<circle cx="230.40" cy="104.10" r="3.4" fill="#0a0a0a"/>
<circle cx="233.00" cy="106.40" r="3.4" fill="#0a0a0a"/>
<circle cx="216.10" cy="113.00" r="3.4" fill="#0a0a0a"/>
<circle cx="206.80" cy="120.50" r="3.4" fill="#0a0a0a"/>
<circle cx="203.20" cy="124.90" r="3.4" fill="#0a0a0a"/>
<circle cx="243.00" cy="98.00" r="3.4" fill="#0a0a0a"/>
<circle cx="262.00" cy="100.60" r="3.4" fill="#0a0a0a"/>
<circle cx="247.10" cy="108.10" r="3.4" fill="#0a0a0a"/>
<circle cx="250.00" cy="107.70" r="3.4" fill="#0a0a0a"/>
<circle cx="255.60" cy="109.40" r="3.4" fill="#0a0a0a"/>
<circle cx="291.00" cy="101.40" r="3.4" fill="#0a0a0a"/>
<circle cx="294.00" cy="105.70" r="3.4" fill="#0a0a0a"/>
<circle cx="301.20" cy="99.80" r="3.4" fill="#0a0a0a"/>
<circle cx="301.20" cy="102.30" r="3.4" fill="#0a0a0a"/>
<circle cx="312.20" cy="94.50" r="3.4" fill="#0a0a0a"/>
<polyline points="200.01,120.44 200.94,116.27 201.86,112.71 202.78,109.67 203.71,107.07 204.63,104.85 205.55,102.96 206.48,101.34 207.40,99.96 208.33,98.78 209.25,97.78 210.17,96.92 211.10,96.18 212.02,95.56 212.95,95.02 213.87,94.56 214.79,94.17 215.72,93.84 216.64,93.56 217.56,93.31 218.49,93.11 219.41,92.93 220.34,92.78 221.26,92.65 222.18,92.54 223.11,92.44 224.03,92.36 224.95,92.29 225.88,92.23 226.80,92.18 227.73,92.14 228.65,92.11 229.57,92.07 230.50,92.05 231.42,92.02 232.34,92.01 233.27,91.99 234.19,91.97 235.12,91.96 236.04,91.95 236.96,91.94 237.89,91.94 238.81,91.93 239.74,91.92 240.66,91.92 241.58,91.92 242.51,91.91 243.43,91.91 244.35,91.91 245.28,91.90 246.20,91.90 247.13,91.90 248.05,91.90 248.97,91.90 249.90,91.90 250.82,91.90 251.74,91.90 252.67,91.90 253.59,91.89 254.52,91.89 255.44,91.89 256.36,91.89 257.29,91.89 258.21,91.89 259.14,91.89 260.06,91.89 260.98,91.89 261.91,91.89 262.83,91.89 263.75,91.89 264.68,91.89 265.60,91.89 266.53,91.89 267.45,91.89 268.37,91.89 269.30,91.89 270.22,91.89 271.14,91.89 272.07,91.89 272.99,91.89 273.92,91.89 274.84,91.89 275.76,91.89 276.69,91.89 277.61,91.89 278.54,91.89 279.46,91.89 280.38,91.89 281.31,91.89 282.23,91.89 283.15,91.89 284.08,91.89 285.00,91.89 285.93,91.89 286.85,91.89 287.77,91.89 288.70,91.89 289.62,91.89 290.54,91.89 291.47,91.89 292.39,91.89 293.32,91.89 294.24,91.89 295.16,91.89 296.09,91.89 297.01,91.89 297.93,91.89 298.86,91.89 299.78,91.89 300.71,91.89 301.63,91.89 302.55,91.89 303.48,91.89 304.40,91.89 305.33,91.89 306.25,91.89 307.17,91.89 308.10,91.89 309.02,91.89 309.94,91.89 310.87,91.89" fill="none" stroke="#6a6a6a" stroke-width="0.95"/>
</g>
<g clip-path="url(#cC)">
<path d="M470.20 6.70H478.60M470.20 4.70v4.0M478.60 4.70v4.0" stroke="#6a6a6a" stroke-width="0.9" fill="none"/>
<path d="M455.80 13.40V41.40M453.80 13.40h4.0M453.80 41.40h4.0" stroke="#6a6a6a" stroke-width="0.9" fill="none"/>
<path d="M433.50 19.80V35.40M431.50 19.80h4.0M431.50 35.40h4.0" stroke="#6a6a6a" stroke-width="0.9" fill="none"/>
<path d="M425.40 30.90V49.20M423.40 30.90h4.0M423.40 49.20h4.0" stroke="#6a6a6a" stroke-width="0.9" fill="none"/>
<path d="M448.30 36.40V58.40M446.30 36.40h4.0M446.30 58.40h4.0" stroke="#6a6a6a" stroke-width="0.9" fill="none"/>
<path d="M443.90 47.30H453.20M443.90 45.30v4.0M453.20 45.30v4.0" stroke="#6a6a6a" stroke-width="0.9" fill="none"/>
<path d="M466.60 25.20V48.30M464.60 25.20h4.0M464.60 48.30h4.0" stroke="#6a6a6a" stroke-width="0.9" fill="none"/>
<path d="M433.60 38.60V64.30M431.60 38.60h4.0M431.60 64.30h4.0" stroke="#6a6a6a" stroke-width="0.9" fill="none"/>
<path d="M416.60 70.40H435.50M416.60 68.40v4.0M435.50 68.40v4.0" stroke="#6a6a6a" stroke-width="0.9" fill="none"/>
<path d="M453.50 65.90H474.00M453.50 63.90v4.0M474.00 63.90v4.0" stroke="#6a6a6a" stroke-width="0.9" fill="none"/>
<path d="M472.80 68.40V82.40M470.80 68.40h4.0M470.80 82.40h4.0" stroke="#6a6a6a" stroke-width="0.9" fill="none"/>
<path d="M464.20 76.70V88.00M462.20 76.70h4.0M462.20 88.00h4.0" stroke="#6a6a6a" stroke-width="0.9" fill="none"/>
<path d="M459.00 82.40H473.40M459.00 80.40v4.0M473.40 80.40v4.0" stroke="#6a6a6a" stroke-width="0.9" fill="none"/>
<path d="M458.50 72.80V97.10M456.50 72.80h4.0M456.50 97.10h4.0" stroke="#6a6a6a" stroke-width="0.9" fill="none"/>
<path d="M454.00 85.00H463.00M454.00 83.00v4.0M463.00 83.00v4.0" stroke="#6a6a6a" stroke-width="0.9" fill="none"/>
<path d="M462.70 86.00V95.40M460.70 86.00h4.0M460.70 95.40h4.0" stroke="#6a6a6a" stroke-width="0.9" fill="none"/>
<path d="M456.00 90.70H470.00M456.00 88.70v4.0M470.00 88.70v4.0" stroke="#6a6a6a" stroke-width="0.9" fill="none"/>
<path d="M410.30 85.50V97.50M408.30 85.50h4.0M408.30 97.50h4.0" stroke="#6a6a6a" stroke-width="0.9" fill="none"/>
<path d="M401.60 96.60H411.00M401.60 94.60v4.0M411.00 94.60v4.0" stroke="#6a6a6a" stroke-width="0.9" fill="none"/>
<path d="M398.10 58.00V72.20M396.10 58.00h4.0M396.10 72.20h4.0" stroke="#6a6a6a" stroke-width="0.9" fill="none"/>
<path d="M378.80 82.50V97.40M376.80 82.50h4.0M376.80 97.40h4.0" stroke="#6a6a6a" stroke-width="0.9" fill="none"/>
<path d="M391.30 85.40V96.20M389.30 85.40h4.0M389.30 96.20h4.0" stroke="#6a6a6a" stroke-width="0.9" fill="none"/>
<path d="M397.50 88.00V95.80M395.50 88.00h4.0M395.50 95.80h4.0" stroke="#6a6a6a" stroke-width="0.9" fill="none"/>
<path d="M385.40 91.00V100.50M383.40 91.00h4.0M383.40 100.50h4.0" stroke="#6a6a6a" stroke-width="0.9" fill="none"/>
<rect x="471.70" y="3.85" width="5.4" height="5.7" fill="#fff" stroke="#666" stroke-width="0.95"/>
<rect x="447.70" y="13.15" width="5.4" height="5.7" fill="#fff" stroke="#666" stroke-width="0.95"/>
<rect x="453.10" y="24.75" width="5.4" height="5.7" fill="#fff" stroke="#666" stroke-width="0.95"/>
<rect x="430.80" y="24.75" width="5.4" height="5.7" fill="#fff" stroke="#666" stroke-width="0.95"/>
<rect x="422.70" y="37.35" width="5.4" height="5.7" fill="#fff" stroke="#666" stroke-width="0.95"/>
<rect x="445.60" y="44.45" width="5.4" height="5.7" fill="#fff" stroke="#666" stroke-width="0.95"/>
<rect x="463.00" y="60.55" width="5.4" height="5.7" fill="#fff" stroke="#666" stroke-width="0.95"/>
<rect x="398.30" y="56.15" width="5.4" height="5.7" fill="#fff" stroke="#666" stroke-width="0.95"/>
<rect x="400.90" y="70.35" width="5.4" height="5.7" fill="#fff" stroke="#666" stroke-width="0.95"/>
<rect x="394.00" y="82.15" width="5.4" height="5.7" fill="#fff" stroke="#666" stroke-width="0.95"/>
<rect x="382.30" y="87.55" width="5.4" height="5.7" fill="#fff" stroke="#666" stroke-width="0.95"/>
<rect x="390.70" y="99.65" width="5.4" height="5.7" fill="#fff" stroke="#666" stroke-width="0.95"/>
<rect x="380.70" y="111.55" width="5.4" height="5.7" fill="#fff" stroke="#666" stroke-width="0.95"/>
<circle cx="466.60" cy="36.60" r="3.35" fill="#fff" stroke="#666" stroke-width="0.95"/>
<circle cx="433.60" cy="51.70" r="3.35" fill="#fff" stroke="#666" stroke-width="0.95"/>
<circle cx="426.10" cy="70.40" r="3.35" fill="#fff" stroke="#666" stroke-width="0.95"/>
<circle cx="463.30" cy="65.90" r="3.35" fill="#fff" stroke="#666" stroke-width="0.95"/>
<circle cx="472.80" cy="75.40" r="3.35" fill="#fff" stroke="#666" stroke-width="0.95"/>
<circle cx="464.20" cy="82.40" r="3.35" fill="#fff" stroke="#666" stroke-width="0.95"/>
<circle cx="458.50" cy="85.00" r="3.35" fill="#fff" stroke="#666" stroke-width="0.95"/>
<circle cx="462.70" cy="90.70" r="3.35" fill="#fff" stroke="#666" stroke-width="0.95"/>
<circle cx="422.00" cy="83.70" r="3.35" fill="#fff" stroke="#666" stroke-width="0.95"/>
<circle cx="410.30" cy="91.50" r="3.35" fill="#fff" stroke="#666" stroke-width="0.95"/>
<circle cx="406.60" cy="96.60" r="3.35" fill="#fff" stroke="#666" stroke-width="0.95"/>
<circle cx="398.10" cy="64.90" r="3.35" fill="#fff" stroke="#666" stroke-width="0.95"/>
<circle cx="402.80" cy="66.60" r="3.35" fill="#fff" stroke="#666" stroke-width="0.95"/>
<circle cx="378.80" cy="90.40" r="3.35" fill="#fff" stroke="#666" stroke-width="0.95"/>
<circle cx="391.30" cy="91.60" r="3.35" fill="#fff" stroke="#666" stroke-width="0.95"/>
<circle cx="397.50" cy="91.80" r="3.35" fill="#fff" stroke="#666" stroke-width="0.95"/>
<circle cx="381.70" cy="95.40" r="3.35" fill="#fff" stroke="#666" stroke-width="0.95"/>
<circle cx="385.40" cy="96.20" r="3.35" fill="#fff" stroke="#666" stroke-width="0.95"/>
<circle cx="377.40" cy="115.20" r="3.35" fill="#fff" stroke="#666" stroke-width="0.95"/>
<circle cx="369.70" cy="124.70" r="3.35" fill="#fff" stroke="#666" stroke-width="0.95"/>
<rect x="370.20" y="120.85" width="5.4" height="5.7" fill="#fff" stroke="#666" stroke-width="0.95"/>
<polyline points="370.01,122.97 370.88,121.03 371.75,119.14 372.62,117.30 373.49,115.51 374.36,113.77 375.23,112.07 376.10,110.41 376.97,108.80 377.84,107.23 378.71,105.70 379.58,104.21 380.45,102.76 381.32,101.35 382.19,99.97 383.06,98.63 383.93,97.33 384.80,96.05 385.67,94.81 386.54,93.61 387.41,92.43 388.28,91.29 389.15,90.17 390.02,89.09 390.89,88.03 391.76,87.00 392.63,85.99 393.50,85.01 394.37,84.06 395.24,83.13 396.11,82.23 396.98,81.35 397.85,80.49 398.72,79.66 399.59,78.85 400.46,78.05 401.33,77.28 402.20,76.53 403.07,75.80 403.94,75.08 404.81,74.39 405.68,73.71 406.55,73.05 407.42,72.41 408.29,71.79 409.16,71.18 410.03,70.59 410.90,70.01 411.77,69.44 412.64,68.90 413.51,68.36 414.38,67.84 415.25,67.34 416.12,66.84 416.99,66.36 417.86,65.89 418.73,65.44 419.60,64.99 420.47,64.56 421.34,64.14 422.21,63.73 423.08,63.33 423.95,62.94 424.82,62.56 425.69,62.19 426.56,61.83 427.43,61.48 428.30,61.14 429.17,60.81 430.04,60.48 430.91,60.17 431.78,59.86 432.65,59.56 433.52,59.27 434.39,58.99 435.26,58.71 436.13,58.44 437.00,58.18 437.87,57.92 438.74,57.67 439.61,57.43 440.48,57.20 441.35,56.96 442.22,56.74 443.09,56.52 443.96,56.31 444.83,56.10 445.70,55.90 446.57,55.70 447.44,55.51 448.31,55.33 449.18,55.15 450.05,54.97 450.92,54.80 451.79,54.63 452.66,54.47 453.53,54.31 454.40,54.15 455.27,54.00 456.14,53.85 457.01,53.71 457.88,53.57 458.75,53.43 459.62,53.30 460.49,53.17 461.36,53.05 462.23,52.93 463.10,52.81 463.97,52.69 464.84,52.58 465.71,52.47 466.58,52.36 467.45,52.25 468.32,52.15 469.19,52.05 470.06,51.96 470.93,51.86 471.80,51.77 472.67,51.68 473.54,51.60 474.41,51.51" fill="none" stroke="#6a6a6a" stroke-width="0.95"/>
</g>
<g clip-path="url(#cD)">
<path d="M568.70 69.80V78.60M566.70 69.80h4.0M566.70 78.60h4.0" stroke="#6a6a6a" stroke-width="0.9" fill="none"/>
<path d="M601.30 63.50V74.20M599.30 63.50h4.0M599.30 74.20h4.0" stroke="#6a6a6a" stroke-width="0.9" fill="none"/>
<path d="M593.00 80.30V97.50M591.00 80.30h4.0M591.00 97.50h4.0" stroke="#6a6a6a" stroke-width="0.9" fill="none"/>
<path d="M563.60 81.70V103.00M561.60 81.70h4.0M561.60 103.00h4.0" stroke="#6a6a6a" stroke-width="0.9" fill="none"/>
<path d="M642.10 61.40V70.40M640.10 61.40h4.0M640.10 70.40h4.0" stroke="#6a6a6a" stroke-width="0.9" fill="none"/>
<path d="M638.70 66.00H646.00M638.70 64.00v4.0M646.00 64.00v4.0" stroke="#6a6a6a" stroke-width="0.9" fill="none"/>
<path d="M633.00 83.60V96.00M631.00 83.60h4.0M631.00 96.00h4.0" stroke="#6a6a6a" stroke-width="0.9" fill="none"/>
<path d="M611.70 70.40H622.00M611.70 68.40v4.0M622.00 68.40v4.0" stroke="#6a6a6a" stroke-width="0.9" fill="none"/>
<path d="M640.50 83.60V104.80M638.50 83.60h4.0M638.50 104.80h4.0" stroke="#6a6a6a" stroke-width="0.9" fill="none"/>
<path d="M621.20 101.10H630.00M621.20 99.10v4.0M630.00 99.10v4.0" stroke="#6a6a6a" stroke-width="0.9" fill="none"/>
<path d="M631.20 97.00V111.90M629.20 97.00h4.0M629.20 111.90h4.0" stroke="#6a6a6a" stroke-width="0.9" fill="none"/>
<path d="M569.80 97.30H581.20M569.80 95.30v4.0M581.20 95.30v4.0" stroke="#6a6a6a" stroke-width="0.9" fill="none"/>
<path d="M584.80 100.10H603.00M584.80 98.10v4.0M603.00 98.10v4.0" stroke="#6a6a6a" stroke-width="0.9" fill="none"/>
<path d="M565.60 99.00V110.70M563.60 99.00h4.0M563.60 110.70h4.0" stroke="#6a6a6a" stroke-width="0.9" fill="none"/>
<rect x="565.60" y="71.10" width="6.2" height="6.2" fill="#0a0a0a"/>
<rect x="568.50" y="77.10" width="6.2" height="6.2" fill="#0a0a0a"/>
<rect x="598.20" y="65.80" width="6.2" height="6.2" fill="#0a0a0a"/>
<rect x="589.90" y="85.80" width="6.2" height="6.2" fill="#0a0a0a"/>
<rect x="560.50" y="89.30" width="6.2" height="6.2" fill="#0a0a0a"/>
<rect x="620.70" y="55.60" width="6.2" height="6.2" fill="#0a0a0a"/>
<rect x="612.70" y="69.30" width="6.2" height="6.2" fill="#0a0a0a"/>
<rect x="639.00" y="62.90" width="6.2" height="6.2" fill="#0a0a0a"/>
<rect x="629.90" y="86.70" width="6.2" height="6.2" fill="#0a0a0a"/>
<rect x="547.80" y="89.80" width="6.2" height="6.2" fill="#0a0a0a"/>
<rect x="557.30" y="91.00" width="6.2" height="6.2" fill="#0a0a0a"/>
<rect x="547.30" y="101.80" width="6.2" height="6.2" fill="#0a0a0a"/>
<rect x="536.80" y="120.90" width="6.2" height="6.2" fill="#0a0a0a"/>
<circle cx="618.70" cy="70.40" r="3.4" fill="#0a0a0a"/>
<circle cx="634.00" cy="67.60" r="3.4" fill="#0a0a0a"/>
<circle cx="640.50" cy="93.60" r="3.4" fill="#0a0a0a"/>
<circle cx="625.60" cy="101.10" r="3.4" fill="#0a0a0a"/>
<circle cx="630.50" cy="98.60" r="3.4" fill="#0a0a0a"/>
<circle cx="631.20" cy="104.20" r="3.4" fill="#0a0a0a"/>
<circle cx="601.70" cy="108.70" r="3.4" fill="#0a0a0a"/>
<circle cx="575.30" cy="97.30" r="3.4" fill="#0a0a0a"/>
<circle cx="593.40" cy="100.10" r="3.4" fill="#0a0a0a"/>
<circle cx="565.60" cy="103.70" r="3.4" fill="#0a0a0a"/>
<circle cx="569.30" cy="104.70" r="3.4" fill="#0a0a0a"/>
<circle cx="577.80" cy="107.30" r="3.4" fill="#0a0a0a"/>
<circle cx="589.20" cy="106.80" r="3.4" fill="#0a0a0a"/>
<circle cx="552.50" cy="92.10" r="3.4" fill="#0a0a0a"/>
<circle cx="546.30" cy="101.60" r="3.4" fill="#0a0a0a"/>
<circle cx="552.10" cy="100.40" r="3.4" fill="#0a0a0a"/>
<circle cx="557.90" cy="100.40" r="3.4" fill="#0a0a0a"/>
<circle cx="547.40" cy="112.30" r="3.4" fill="#0a0a0a"/>
<circle cx="545.60" cy="119.80" r="3.4" fill="#0a0a0a"/>
<circle cx="537.50" cy="124.20" r="3.4" fill="#0a0a0a"/>
<polyline points="538.89,119.74 539.73,118.27 540.57,116.88 541.41,115.54 542.25,114.26 543.09,113.04 543.93,111.87 544.77,110.76 545.61,109.70 546.45,108.68 547.29,107.71 548.13,106.78 548.97,105.89 549.81,105.04 550.64,104.23 551.48,103.46 552.32,102.72 553.16,102.01 554.00,101.34 554.84,100.69 555.68,100.08 556.52,99.49 557.36,98.92 558.20,98.39 559.04,97.87 559.88,97.38 560.72,96.91 561.56,96.46 562.40,96.04 563.24,95.63 564.08,95.24 564.92,94.86 565.76,94.51 566.60,94.17 567.43,93.84 568.27,93.53 569.11,93.23 569.95,92.95 570.79,92.67 571.63,92.42 572.47,92.17 573.31,91.93 574.15,91.70 574.99,91.49 575.83,91.28 576.67,91.08 577.51,90.90 578.35,90.72 579.19,90.54 580.03,90.38 580.87,90.22 581.71,90.07 582.55,89.93 583.39,89.79 584.22,89.66 585.06,89.53 585.90,89.41 586.74,89.30 587.58,89.19 588.42,89.09 589.26,88.99 590.10,88.89 590.94,88.80 591.78,88.71 592.62,88.63 593.46,88.55 594.30,88.48 595.14,88.40 595.98,88.33 596.82,88.27 597.66,88.20 598.50,88.14 599.34,88.09 600.18,88.03 601.01,87.98 601.85,87.93 602.69,87.88 603.53,87.83 604.37,87.79 605.21,87.75 606.05,87.71 606.89,87.67 607.73,87.63 608.57,87.60 609.41,87.56 610.25,87.53 611.09,87.50 611.93,87.47 612.77,87.44 613.61,87.42 614.45,87.39 615.29,87.37 616.13,87.35 616.97,87.32 617.80,87.30 618.64,87.28 619.48,87.26 620.32,87.24 621.16,87.23 622.00,87.21 622.84,87.19 623.68,87.18 624.52,87.16 625.36,87.15 626.20,87.14 627.04,87.12 627.88,87.11 628.72,87.10 629.56,87.09 630.40,87.08 631.24,87.07 632.08,87.06 632.92,87.05 633.76,87.04 634.59,87.03 635.43,87.02 636.27,87.01 637.11,87.01 637.95,87.00 638.79,86.99 639.63,86.99" fill="none" stroke="#6a6a6a" stroke-width="0.95"/>
</g>
<g clip-path="url(#cE)">
<path d="M158.80 183.40V211.40M156.80 183.40h4.0M156.80 211.40h4.0" stroke="#6a6a6a" stroke-width="0.9" fill="none"/>
<path d="M77.60 201.00V219.00M75.60 201.00h4.0M75.60 219.00h4.0" stroke="#6a6a6a" stroke-width="0.9" fill="none"/>
<path d="M119.40 206.60V228.40M117.40 206.60h4.0M117.40 228.40h4.0" stroke="#6a6a6a" stroke-width="0.9" fill="none"/>
<path d="M75.60 238.70V248.20M73.60 238.70h4.0M73.60 248.20h4.0" stroke="#6a6a6a" stroke-width="0.9" fill="none"/>
<path d="M98.30 189.80V205.40M96.30 189.80h4.0M96.30 205.40h4.0" stroke="#6a6a6a" stroke-width="0.9" fill="none"/>
<path d="M149.00 195.40V218.20M147.00 195.40h4.0M147.00 218.20h4.0" stroke="#6a6a6a" stroke-width="0.9" fill="none"/>
<path d="M84.00 208.50V234.40M82.00 208.50h4.0M82.00 234.40h4.0" stroke="#6a6a6a" stroke-width="0.9" fill="none"/>
<path d="M60.40 229.00V242.20M58.40 229.00h4.0M58.40 242.20h4.0" stroke="#6a6a6a" stroke-width="0.9" fill="none"/>
<path d="M64.90 231.00V246.40M62.90 231.00h4.0M62.90 246.40h4.0" stroke="#6a6a6a" stroke-width="0.9" fill="none"/>
<path d="M120.00 231.70V240.00M118.00 231.70h4.0M118.00 240.00h4.0" stroke="#6a6a6a" stroke-width="0.9" fill="none"/>
<path d="M130.30 238.30V253.00M128.30 238.30h4.0M128.30 253.00h4.0" stroke="#6a6a6a" stroke-width="0.9" fill="none"/>
<path d="M109.40 242.60V267.50M107.40 242.60h4.0M107.40 267.50h4.0" stroke="#6a6a6a" stroke-width="0.9" fill="none"/>
<path d="M104.70 255.40V265.20M102.70 255.40h4.0M102.70 265.20h4.0" stroke="#6a6a6a" stroke-width="0.9" fill="none"/>
<path d="M118.60 246.50V258.00M116.60 246.50h4.0M116.60 258.00h4.0" stroke="#6a6a6a" stroke-width="0.9" fill="none"/>
<path d="M45.20 252.70V268.20M43.20 252.70h4.0M43.20 268.20h4.0" stroke="#6a6a6a" stroke-width="0.9" fill="none"/>
<path d="M52.00 254.00V271.30M50.00 254.00h4.0M50.00 271.30h4.0" stroke="#6a6a6a" stroke-width="0.9" fill="none"/>
<path d="M76.20 255.50V266.00M74.20 255.50h4.0M74.20 266.00h4.0" stroke="#6a6a6a" stroke-width="0.9" fill="none"/>
<rect x="148.70" y="173.55" width="5.4" height="5.7" fill="#fff" stroke="#666" stroke-width="0.95"/>
<rect x="104.40" y="183.15" width="5.4" height="5.7" fill="#fff" stroke="#666" stroke-width="0.95"/>
<rect x="156.10" y="194.55" width="5.4" height="5.7" fill="#fff" stroke="#666" stroke-width="0.95"/>
<rect x="74.90" y="207.55" width="5.4" height="5.7" fill="#fff" stroke="#666" stroke-width="0.95"/>
<rect x="116.70" y="214.45" width="5.4" height="5.7" fill="#fff" stroke="#666" stroke-width="0.95"/>
<rect x="105.20" y="230.55" width="5.4" height="5.7" fill="#fff" stroke="#666" stroke-width="0.95"/>
<rect x="63.90" y="226.65" width="5.4" height="5.7" fill="#fff" stroke="#666" stroke-width="0.95"/>
<rect x="72.90" y="240.35" width="5.4" height="5.7" fill="#fff" stroke="#666" stroke-width="0.95"/>
<rect x="54.90" y="251.85" width="5.4" height="5.7" fill="#fff" stroke="#666" stroke-width="0.95"/>
<rect x="52.50" y="258.15" width="5.4" height="5.7" fill="#fff" stroke="#666" stroke-width="0.95"/>
<rect x="61.80" y="269.95" width="5.4" height="5.7" fill="#fff" stroke="#666" stroke-width="0.95"/>
<rect x="43.30" y="281.15" width="5.4" height="5.7" fill="#fff" stroke="#666" stroke-width="0.95"/>
<circle cx="98.30" cy="197.40" r="3.35" fill="#fff" stroke="#666" stroke-width="0.95"/>
<circle cx="149.00" cy="206.50" r="3.35" fill="#fff" stroke="#666" stroke-width="0.95"/>
<circle cx="84.00" cy="221.60" r="3.35" fill="#fff" stroke="#666" stroke-width="0.95"/>
<circle cx="87.60" cy="240.20" r="3.35" fill="#fff" stroke="#666" stroke-width="0.95"/>
<circle cx="60.40" cy="235.10" r="3.35" fill="#fff" stroke="#666" stroke-width="0.95"/>
<circle cx="64.90" cy="238.10" r="3.35" fill="#fff" stroke="#666" stroke-width="0.95"/>
<circle cx="83.40" cy="253.50" r="3.35" fill="#fff" stroke="#666" stroke-width="0.95"/>
<circle cx="120.00" cy="236.00" r="3.35" fill="#fff" stroke="#666" stroke-width="0.95"/>
<circle cx="130.30" cy="245.40" r="3.35" fill="#fff" stroke="#666" stroke-width="0.95"/>
<circle cx="109.40" cy="255.20" r="3.35" fill="#fff" stroke="#666" stroke-width="0.95"/>
<circle cx="104.70" cy="260.80" r="3.35" fill="#fff" stroke="#666" stroke-width="0.95"/>
<circle cx="118.60" cy="251.90" r="3.35" fill="#fff" stroke="#666" stroke-width="0.95"/>
<circle cx="45.20" cy="260.30" r="3.35" fill="#fff" stroke="#666" stroke-width="0.95"/>
<circle cx="52.00" cy="260.40" r="3.35" fill="#fff" stroke="#666" stroke-width="0.95"/>
<circle cx="63.10" cy="261.00" r="3.35" fill="#fff" stroke="#666" stroke-width="0.95"/>
<circle cx="68.70" cy="266.30" r="3.35" fill="#fff" stroke="#666" stroke-width="0.95"/>
<circle cx="76.20" cy="261.80" r="3.35" fill="#fff" stroke="#666" stroke-width="0.95"/>
<circle cx="40.70" cy="285.40" r="3.35" fill="#fff" stroke="#666" stroke-width="0.95"/>
<circle cx="37.30" cy="294.60" r="3.35" fill="#fff" stroke="#666" stroke-width="0.95"/>
<rect x="38.20" y="290.35" width="5.4" height="5.7" fill="#fff" stroke="#666" stroke-width="0.95"/>
<polyline points="37.82,285.00 38.84,283.47 39.85,281.98 40.87,280.51 41.89,279.07 42.90,277.65 43.92,276.26 44.94,274.90 45.95,273.56 46.97,272.25 47.98,270.96 49.00,269.69 50.02,268.44 51.03,267.22 52.05,266.02 53.07,264.85 54.08,263.69 55.10,262.55 56.12,261.44 57.13,260.35 58.15,259.27 59.17,258.22 60.18,257.18 61.20,256.16 62.22,255.17 63.23,254.19 64.25,253.22 65.26,252.28 66.28,251.35 67.30,250.44 68.31,249.55 69.33,248.67 70.35,247.81 71.36,246.96 72.38,246.13 73.40,245.31 74.41,244.51 75.43,243.73 76.45,242.95 77.46,242.20 78.48,241.45 79.50,240.72 80.51,240.00 81.53,239.30 82.55,238.61 83.56,237.93 84.58,237.26 85.59,236.61 86.61,235.97 87.63,235.34 88.64,234.72 89.66,234.11 90.68,233.51 91.69,232.93 92.71,232.35 93.73,231.78 94.74,231.23 95.76,230.69 96.78,230.15 97.79,229.63 98.81,229.11 99.83,228.60 100.84,228.11 101.86,227.62 102.87,227.14 103.89,226.67 104.91,226.21 105.92,225.76 106.94,225.31 107.96,224.87 108.97,224.44 109.99,224.02 111.01,223.61 112.02,223.20 113.04,222.80 114.06,222.41 115.07,222.03 116.09,221.65 117.11,221.28 118.12,220.92 119.14,220.56 120.15,220.21 121.17,219.87 122.19,219.53 123.20,219.20 124.22,218.87 125.24,218.55 126.25,218.24 127.27,217.93 128.29,217.63 129.30,217.33 130.32,217.04 131.34,216.75 132.35,216.47 133.37,216.19 134.39,215.92 135.40,215.66 136.42,215.39 137.43,215.14 138.45,214.89 139.47,214.64 140.48,214.40 141.50,214.16 142.52,213.92 143.53,213.69 144.55,213.47 145.57,213.25 146.58,213.03 147.60,212.82 148.62,212.61 149.63,212.40 150.65,212.20 151.67,212.00 152.68,211.80 153.70,211.61 154.72,211.43 155.73,211.24 156.75,211.06 157.76,210.88 158.78,210.71 159.80,210.54" fill="none" stroke="#6a6a6a" stroke-width="0.95"/>
</g>
<g clip-path="url(#cF)">
<path d="M233.00 239.00V248.40M231.00 239.00h4.0M231.00 248.40h4.0" stroke="#6a6a6a" stroke-width="0.9" fill="none"/>
<path d="M224.10 251.50V279.20M222.10 251.50h4.0M222.10 279.20h4.0" stroke="#6a6a6a" stroke-width="0.9" fill="none"/>
<path d="M244.00 252.00V266.80M242.00 252.00h4.0M242.00 266.80h4.0" stroke="#6a6a6a" stroke-width="0.9" fill="none"/>
<path d="M274.00 253.10V265.00M272.00 253.10h4.0M272.00 265.00h4.0" stroke="#6a6a6a" stroke-width="0.9" fill="none"/>
<path d="M217.00 257.60V266.00M215.00 257.60h4.0M215.00 266.00h4.0" stroke="#6a6a6a" stroke-width="0.9" fill="none"/>
<path d="M228.30 268.00V280.30M226.30 268.00h4.0M226.30 280.30h4.0" stroke="#6a6a6a" stroke-width="0.9" fill="none"/>
<path d="M264.80 233.40V244.20M262.80 233.40h4.0M262.80 244.20h4.0" stroke="#6a6a6a" stroke-width="0.9" fill="none"/>
<path d="M253.80 263.00V276.50M251.80 263.00h4.0M251.80 276.50h4.0" stroke="#6a6a6a" stroke-width="0.9" fill="none"/>
<path d="M286.20 268.00V282.40M284.20 268.00h4.0M284.20 282.40h4.0" stroke="#6a6a6a" stroke-width="0.9" fill="none"/>
<path d="M296.30 252.60V273.90M294.30 252.60h4.0M294.30 273.90h4.0" stroke="#6a6a6a" stroke-width="0.9" fill="none"/>
<rect x="229.90" y="241.10" width="6.2" height="6.2" fill="#0a0a0a"/>
<rect x="221.00" y="258.90" width="6.2" height="6.2" fill="#0a0a0a"/>
<rect x="228.00" y="259.90" width="6.2" height="6.2" fill="#0a0a0a"/>
<rect x="239.00" y="247.00" width="6.2" height="6.2" fill="#0a0a0a"/>
<rect x="240.90" y="255.30" width="6.2" height="6.2" fill="#0a0a0a"/>
<rect x="270.20" y="236.90" width="6.2" height="6.2" fill="#0a0a0a"/>
<rect x="282.60" y="239.00" width="6.2" height="6.2" fill="#0a0a0a"/>
<rect x="270.90" y="256.40" width="6.2" height="6.2" fill="#0a0a0a"/>
<rect x="321.80" y="225.40" width="6.2" height="6.2" fill="#0a0a0a"/>
<rect x="208.50" y="271.10" width="6.2" height="6.2" fill="#0a0a0a"/>
<rect x="202.40" y="289.90" width="6.2" height="6.2" fill="#0a0a0a"/>
<circle cx="217.00" cy="262.00" r="3.4" fill="#0a0a0a"/>
<circle cx="234.90" cy="266.80" r="3.4" fill="#0a0a0a"/>
<circle cx="212.20" cy="271.50" r="3.4" fill="#0a0a0a"/>
<circle cx="219.00" cy="269.40" r="3.4" fill="#0a0a0a"/>
<circle cx="221.80" cy="267.20" r="3.4" fill="#0a0a0a"/>
<circle cx="214.60" cy="266.60" r="3.4" fill="#0a0a0a"/>
<circle cx="228.30" cy="273.20" r="3.4" fill="#0a0a0a"/>
<circle cx="230.50" cy="274.20" r="3.4" fill="#0a0a0a"/>
<circle cx="215.20" cy="282.20" r="3.4" fill="#0a0a0a"/>
<circle cx="207.40" cy="289.10" r="3.4" fill="#0a0a0a"/>
<circle cx="203.20" cy="294.10" r="3.4" fill="#0a0a0a"/>
<circle cx="264.80" cy="238.80" r="3.4" fill="#0a0a0a"/>
<circle cx="253.80" cy="269.10" r="3.4" fill="#0a0a0a"/>
<circle cx="243.10" cy="277.00" r="3.4" fill="#0a0a0a"/>
<circle cx="249.90" cy="277.50" r="3.4" fill="#0a0a0a"/>
<circle cx="270.60" cy="268.70" r="3.4" fill="#0a0a0a"/>
<circle cx="275.30" cy="270.80" r="3.4" fill="#0a0a0a"/>
<circle cx="284.80" cy="271.40" r="3.4" fill="#0a0a0a"/>
<circle cx="286.20" cy="274.40" r="3.4" fill="#0a0a0a"/>
<circle cx="296.30" cy="263.30" r="3.4" fill="#0a0a0a"/>
<circle cx="315.60" cy="237.10" r="3.4" fill="#0a0a0a"/>
<circle cx="317.50" cy="235.50" r="3.4" fill="#0a0a0a"/>
<line x1="203.6" y1="278.5" x2="324.4" y2="240.4" stroke="#6a6a6a" stroke-width="0.95"/>
</g>
<g clip-path="url(#cG)">
<path d="M396.40 200.30V218.80M394.40 200.30h4.0M394.40 218.80h4.0" stroke="#6a6a6a" stroke-width="0.9" fill="none"/>
<path d="M388.40 237.60V247.40M386.40 237.60h4.0M386.40 247.40h4.0" stroke="#6a6a6a" stroke-width="0.9" fill="none"/>
<path d="M409.40 227.00V241.30M407.40 227.00h4.0M407.40 241.30h4.0" stroke="#6a6a6a" stroke-width="0.9" fill="none"/>
<path d="M415.70 228.40V245.40M413.70 228.40h4.0M413.70 245.40h4.0" stroke="#6a6a6a" stroke-width="0.9" fill="none"/>
<path d="M398.40 251.40V270.00M396.40 251.40h4.0M396.40 270.00h4.0" stroke="#6a6a6a" stroke-width="0.9" fill="none"/>
<path d="M405.00 258.00V271.40M403.00 258.00h4.0M403.00 271.40h4.0" stroke="#6a6a6a" stroke-width="0.9" fill="none"/>
<path d="M408.40 254.70V264.00M406.40 254.70h4.0M406.40 264.00h4.0" stroke="#6a6a6a" stroke-width="0.9" fill="none"/>
<path d="M420.60 256.70V265.00M418.60 256.70h4.0M418.60 265.00h4.0" stroke="#6a6a6a" stroke-width="0.9" fill="none"/>
<path d="M433.40 207.90V233.70M431.40 207.90h4.0M431.40 233.70h4.0" stroke="#6a6a6a" stroke-width="0.9" fill="none"/>
<path d="M431.30 239.70H440.60M431.30 237.70v4.0M440.60 237.70v4.0" stroke="#6a6a6a" stroke-width="0.9" fill="none"/>
<path d="M434.70 254.90V266.00M432.70 254.90h4.0M432.70 266.00h4.0" stroke="#6a6a6a" stroke-width="0.9" fill="none"/>
<path d="M472.20 242.40V266.50M470.20 242.40h4.0M470.20 266.50h4.0" stroke="#6a6a6a" stroke-width="0.9" fill="none"/>
<path d="M463.50 254.20H480.50M463.50 252.20v4.0M480.50 252.20v4.0" stroke="#6a6a6a" stroke-width="0.9" fill="none"/>
<path d="M478.50 256.00V263.50M476.50 256.00h4.0M476.50 263.50h4.0" stroke="#6a6a6a" stroke-width="0.9" fill="none"/>
<path d="M469.80 259.70H487.30M469.80 257.70v4.0M487.30 257.70v4.0" stroke="#6a6a6a" stroke-width="0.9" fill="none"/>
<rect x="393.70" y="206.55" width="5.4" height="5.7" fill="#fff" stroke="#666" stroke-width="0.95"/>
<rect x="384.00" y="225.55" width="5.4" height="5.7" fill="#fff" stroke="#666" stroke-width="0.95"/>
<rect x="403.30" y="230.15" width="5.4" height="5.7" fill="#fff" stroke="#666" stroke-width="0.95"/>
<rect x="385.70" y="239.85" width="5.4" height="5.7" fill="#fff" stroke="#666" stroke-width="0.95"/>
<rect x="384.50" y="257.55" width="5.4" height="5.7" fill="#fff" stroke="#666" stroke-width="0.95"/>
<rect x="384.30" y="254.35" width="5.4" height="5.7" fill="#fff" stroke="#666" stroke-width="0.95"/>
<rect x="384.90" y="268.65" width="5.4" height="5.7" fill="#fff" stroke="#666" stroke-width="0.95"/>
<rect x="385.90" y="280.25" width="5.4" height="5.7" fill="#fff" stroke="#666" stroke-width="0.95"/>
<rect x="383.20" y="289.85" width="5.4" height="5.7" fill="#fff" stroke="#666" stroke-width="0.95"/>
<circle cx="409.40" cy="233.80" r="3.35" fill="#fff" stroke="#666" stroke-width="0.95"/>
<circle cx="415.70" cy="236.80" r="3.35" fill="#fff" stroke="#666" stroke-width="0.95"/>
<circle cx="391.70" cy="253.80" r="3.35" fill="#fff" stroke="#666" stroke-width="0.95"/>
<circle cx="398.40" cy="259.40" r="3.35" fill="#fff" stroke="#666" stroke-width="0.95"/>
<circle cx="399.70" cy="264.00" r="3.35" fill="#fff" stroke="#666" stroke-width="0.95"/>
<circle cx="405.00" cy="264.00" r="3.35" fill="#fff" stroke="#666" stroke-width="0.95"/>
<circle cx="408.40" cy="259.40" r="3.35" fill="#fff" stroke="#666" stroke-width="0.95"/>
<circle cx="420.60" cy="260.60" r="3.35" fill="#fff" stroke="#666" stroke-width="0.95"/>
<circle cx="433.40" cy="220.80" r="3.35" fill="#fff" stroke="#666" stroke-width="0.95"/>
<circle cx="436.10" cy="239.70" r="3.35" fill="#fff" stroke="#666" stroke-width="0.95"/>
<circle cx="444.90" cy="252.80" r="3.35" fill="#fff" stroke="#666" stroke-width="0.95"/>
<circle cx="434.70" cy="260.40" r="3.35" fill="#fff" stroke="#666" stroke-width="0.95"/>
<circle cx="431.40" cy="265.20" r="3.35" fill="#fff" stroke="#666" stroke-width="0.95"/>
<circle cx="472.20" cy="254.20" r="3.35" fill="#fff" stroke="#666" stroke-width="0.95"/>
<circle cx="478.50" cy="259.70" r="3.35" fill="#fff" stroke="#666" stroke-width="0.95"/>
<circle cx="393.10" cy="284.10" r="3.35" fill="#fff" stroke="#666" stroke-width="0.95"/>
<circle cx="390.30" cy="293.70" r="3.35" fill="#fff" stroke="#666" stroke-width="0.95"/>
</g>
<g clip-path="url(#cH)">
<path d="M554.30 239.20V247.40M552.30 239.20h4.0M552.30 247.40h4.0" stroke="#6a6a6a" stroke-width="0.9" fill="none"/>
<path d="M564.30 249.20V262.00M562.30 249.20h4.0M562.30 262.00h4.0" stroke="#6a6a6a" stroke-width="0.9" fill="none"/>
<path d="M574.60 252.60V263.00M572.60 252.60h4.0M572.60 263.00h4.0" stroke="#6a6a6a" stroke-width="0.9" fill="none"/>
<path d="M556.50 269.00V278.00M554.50 269.00h4.0M554.50 278.00h4.0" stroke="#6a6a6a" stroke-width="0.9" fill="none"/>
<path d="M573.20 277.30V285.00M571.20 277.30h4.0M571.20 285.00h4.0" stroke="#6a6a6a" stroke-width="0.9" fill="none"/>
<path d="M604.00 262.20V272.00M602.00 262.20h4.0M602.00 272.00h4.0" stroke="#6a6a6a" stroke-width="0.9" fill="none"/>
<path d="M600.00 268.70H608.40M600.00 266.70v4.0M608.40 266.70v4.0" stroke="#6a6a6a" stroke-width="0.9" fill="none"/>
<path d="M631.40 270.00H644.00M631.40 268.00v4.0M644.00 268.00v4.0" stroke="#6a6a6a" stroke-width="0.9" fill="none"/>
<path d="M646.60 263.50V272.00M644.60 263.50h4.0M644.60 272.00h4.0" stroke="#6a6a6a" stroke-width="0.9" fill="none"/>
<path d="M642.00 267.70H655.60M642.00 265.70v4.0M655.60 265.70v4.0" stroke="#6a6a6a" stroke-width="0.9" fill="none"/>
<rect x="551.20" y="240.20" width="6.2" height="6.2" fill="#0a0a0a"/>
<rect x="552.90" y="246.40" width="6.2" height="6.2" fill="#0a0a0a"/>
<rect x="561.20" y="254.20" width="6.2" height="6.2" fill="#0a0a0a"/>
<rect x="571.50" y="255.50" width="6.2" height="6.2" fill="#0a0a0a"/>
<rect x="551.80" y="258.50" width="6.2" height="6.2" fill="#0a0a0a"/>
<rect x="555.40" y="257.60" width="6.2" height="6.2" fill="#0a0a0a"/>
<rect x="552.20" y="262.90" width="6.2" height="6.2" fill="#0a0a0a"/>
<rect x="552.80" y="266.50" width="6.2" height="6.2" fill="#0a0a0a"/>
<rect x="553.40" y="270.50" width="6.2" height="6.2" fill="#0a0a0a"/>
<rect x="550.80" y="289.30" width="6.2" height="6.2" fill="#0a0a0a"/>
<circle cx="567.40" cy="261.40" r="3.4" fill="#0a0a0a"/>
<circle cx="565.70" cy="270.70" r="3.4" fill="#0a0a0a"/>
<circle cx="572.90" cy="268.90" r="3.4" fill="#0a0a0a"/>
<circle cx="576.90" cy="272.50" r="3.4" fill="#0a0a0a"/>
<circle cx="583.30" cy="273.50" r="3.4" fill="#0a0a0a"/>
<circle cx="573.20" cy="281.70" r="3.4" fill="#0a0a0a"/>
<circle cx="561.00" cy="288.80" r="3.4" fill="#0a0a0a"/>
<circle cx="557.60" cy="293.60" r="3.4" fill="#0a0a0a"/>
<circle cx="599.50" cy="266.10" r="3.4" fill="#0a0a0a"/>
<circle cx="604.00" cy="268.70" r="3.4" fill="#0a0a0a"/>
<circle cx="600.80" cy="278.00" r="3.4" fill="#0a0a0a"/>
<circle cx="602.80" cy="276.30" r="3.4" fill="#0a0a0a"/>
<circle cx="612.60" cy="276.10" r="3.4" fill="#0a0a0a"/>
<circle cx="640.10" cy="270.00" r="3.4" fill="#0a0a0a"/>
<circle cx="646.60" cy="267.70" r="3.4" fill="#0a0a0a"/>
</g>
<line x1="31.50" y1="4.00" x2="177.30" y2="4.00" stroke="#8a8a8a" stroke-width="1"/>
<line x1="177.30" y1="4.00" x2="177.30" y2="136.50" stroke="#8a8a8a" stroke-width="1"/>
<line x1="31.50" y1="4.00" x2="31.50" y2="136.50" stroke="#7a7a7a" stroke-width="1"/>
<line x1="31.50" y1="136.50" x2="177.30" y2="136.50" stroke="#7a7a7a" stroke-width="1"/>
<line x1="197.40" y1="4.00" x2="342.50" y2="4.00" stroke="#8a8a8a" stroke-width="1"/>
<line x1="342.50" y1="4.00" x2="342.50" y2="136.50" stroke="#8a8a8a" stroke-width="1"/>
<line x1="197.40" y1="4.00" x2="197.40" y2="136.50" stroke="#7a7a7a" stroke-width="1"/>
<line x1="197.40" y1="136.50" x2="342.50" y2="136.50" stroke="#7a7a7a" stroke-width="1"/>
<line x1="364.50" y1="3.50" x2="509.50" y2="3.50" stroke="#8a8a8a" stroke-width="1"/>
<line x1="509.50" y1="3.50" x2="509.50" y2="136.50" stroke="#8a8a8a" stroke-width="1"/>
<line x1="364.50" y1="3.50" x2="364.50" y2="136.50" stroke="#7a7a7a" stroke-width="1"/>
<line x1="364.50" y1="136.50" x2="509.50" y2="136.50" stroke="#7a7a7a" stroke-width="1"/>
<line x1="531.30" y1="3.50" x2="677.30" y2="3.50" stroke="#8a8a8a" stroke-width="1"/>
<line x1="677.30" y1="3.50" x2="677.30" y2="136.50" stroke="#8a8a8a" stroke-width="1"/>
<line x1="531.30" y1="3.50" x2="531.30" y2="136.50" stroke="#7a7a7a" stroke-width="1"/>
<line x1="531.30" y1="136.50" x2="677.30" y2="136.50" stroke="#7a7a7a" stroke-width="1"/>
<line x1="32.00" y1="173.40" x2="177.50" y2="173.40" stroke="#8a8a8a" stroke-width="1"/>
<line x1="177.50" y1="173.40" x2="177.50" y2="306.30" stroke="#8a8a8a" stroke-width="1"/>
<line x1="32.00" y1="173.40" x2="32.00" y2="306.30" stroke="#7a7a7a" stroke-width="1"/>
<line x1="32.00" y1="306.30" x2="177.50" y2="306.30" stroke="#7a7a7a" stroke-width="1"/>
<line x1="198.60" y1="173.00" x2="343.30" y2="173.00" stroke="#8a8a8a" stroke-width="1"/>
<line x1="343.30" y1="173.00" x2="343.30" y2="305.80" stroke="#8a8a8a" stroke-width="1"/>
<line x1="198.60" y1="173.00" x2="198.60" y2="305.80" stroke="#7a7a7a" stroke-width="1"/>
<line x1="198.60" y1="305.80" x2="343.30" y2="305.80" stroke="#7a7a7a" stroke-width="1"/>
<line x1="364.60" y1="172.80" x2="509.40" y2="172.80" stroke="#8a8a8a" stroke-width="1"/>
<line x1="509.40" y1="172.80" x2="509.40" y2="305.40" stroke="#8a8a8a" stroke-width="1"/>
<line x1="364.60" y1="172.80" x2="364.60" y2="305.40" stroke="#7a7a7a" stroke-width="1"/>
<line x1="364.60" y1="305.40" x2="509.40" y2="305.40" stroke="#7a7a7a" stroke-width="1"/>
<line x1="531.60" y1="172.80" x2="677.40" y2="172.80" stroke="#8a8a8a" stroke-width="1"/>
<line x1="677.40" y1="172.80" x2="677.40" y2="305.40" stroke="#8a8a8a" stroke-width="1"/>
<line x1="531.60" y1="172.80" x2="531.60" y2="305.40" stroke="#7a7a7a" stroke-width="1"/>
<line x1="531.60" y1="305.40" x2="677.40" y2="305.40" stroke="#7a7a7a" stroke-width="1"/>
<line x1="123.70" y1="128.40" x2="139.90" y2="128.40" stroke="#6a6a6a" stroke-width="0.9"/>
<text transform="translate(142.00,132.20) scale(0.955,1)" font-size="9.1">R<tspan font-size="6.6" dy="-2.9">2</tspan><tspan dy="2.9">=0.33</tspan></text>
<line x1="288.90" y1="128.40" x2="305.10" y2="128.40" stroke="#6a6a6a" stroke-width="0.9"/>
<text transform="translate(307.20,132.20) scale(0.955,1)" font-size="9.1">R<tspan font-size="6.6" dy="-2.9">2</tspan><tspan dy="2.9">=0.18</tspan></text>
<line x1="455.90" y1="128.40" x2="472.10" y2="128.40" stroke="#6a6a6a" stroke-width="0.9"/>
<text transform="translate(474.20,132.20) scale(0.955,1)" font-size="9.1">R<tspan font-size="6.6" dy="-2.9">2</tspan><tspan dy="2.9">=0.54</tspan></text>
<line x1="623.70" y1="128.40" x2="639.90" y2="128.40" stroke="#6a6a6a" stroke-width="0.9"/>
<text transform="translate(642.00,132.20) scale(0.955,1)" font-size="9.1">R<tspan font-size="6.6" dy="-2.9">2</tspan><tspan dy="2.9">=0.36</tspan></text>
<line x1="123.90" y1="297.80" x2="140.10" y2="297.80" stroke="#6a6a6a" stroke-width="0.9"/>
<text transform="translate(142.20,301.10) scale(0.955,1)" font-size="9.1">R<tspan font-size="6.6" dy="-2.9">2</tspan><tspan dy="2.9">=0.57</tspan></text>
<line x1="289.70" y1="297.80" x2="305.90" y2="297.80" stroke="#6a6a6a" stroke-width="0.9"/>
<text transform="translate(308.00,301.10) scale(0.955,1)" font-size="9.1">R<tspan font-size="6.6" dy="-2.9">2</tspan><tspan dy="2.9">=0.44</tspan></text>
<text x="146.6" y="164.7" font-size="9.25">CaCl<tspan font-size="6" dy="2">2</tspan><tspan dy="-2"> K (mg kg</tspan><tspan font-size="6" dy="-3.5">-1</tspan><tspan dy="3.5">)</tspan></text>
<text x="480.0" y="164.7" font-size="9.25">Colwell K (mg kg<tspan font-size="6" dy="-3.5">-1</tspan><tspan dy="3.5">)</tspan></text>
<text x="153.3" y="333.6" font-size="9.25">NH<tspan font-size="6" dy="2">4</tspan><tspan dy="-2">OAc K (mg kg</tspan><tspan font-size="6" dy="-3.5">-1</tspan><tspan dy="3.5">)</tspan></text>
<text x="465.2" y="333.6" font-size="9.12">DGT K 0.6 mm 6 h (mg L<tspan font-size="6" dy="-3.5">-1</tspan><tspan dy="3.5">)</tspan></text>
<text transform="translate(9.3,156.6) rotate(-90)" font-size="9.1" text-anchor="middle">Plant K uptake (mg pot<tspan font-size="6" dy="-3.5">-1</tspan><tspan dy="3.5">)</tspan></text>
</svg></body></html>
